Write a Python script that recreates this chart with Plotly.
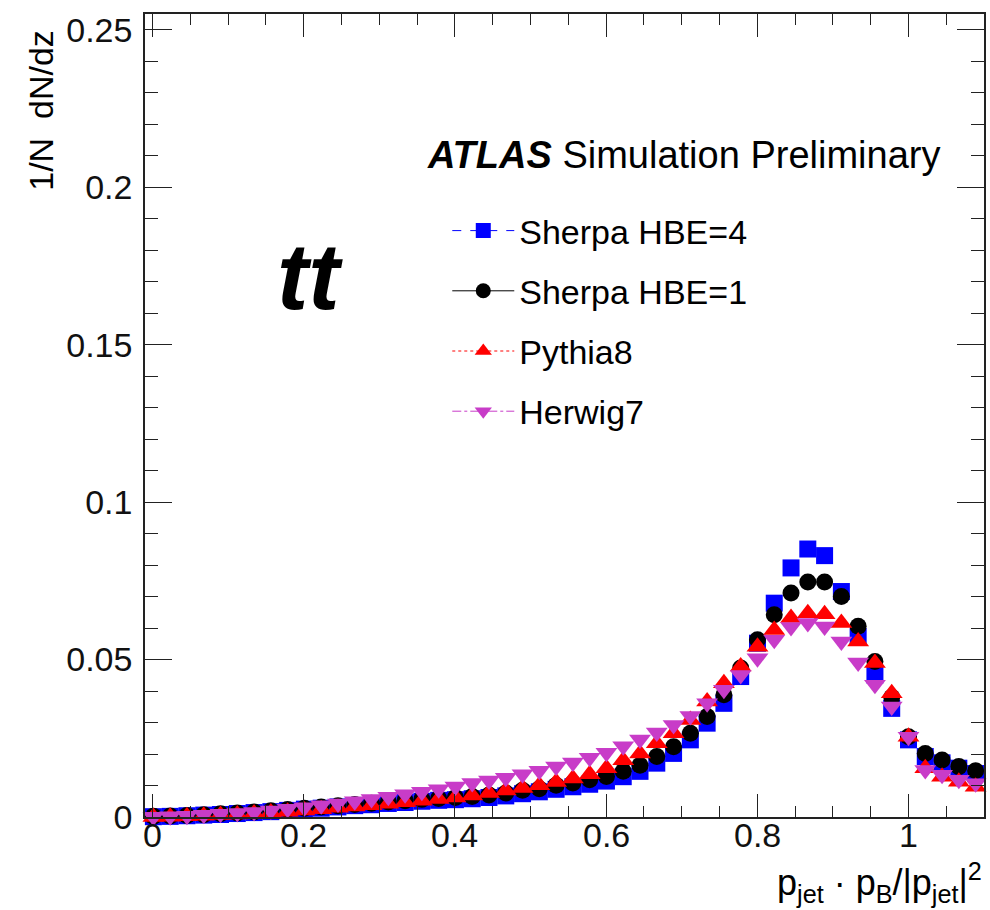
import numpy as np
import plotly.graph_objects as go

# 50 bins of z on [-0.01, 1.1]
bin_edges = np.linspace(-0.01, 1.1, 51)
z_centers = 0.5 * (bin_edges[:-1] + bin_edges[1:])

sherpa_hbe4 = [
    0.0001, 0.0002, 0.0004, 0.0006, 0.0008, 0.0011, 0.0014, 0.0017, 0.0021, 0.0025,
    0.0028, 0.0032, 0.0036, 0.0039, 0.0043, 0.0046, 0.0050, 0.0053, 0.0055, 0.0058,
    0.0062, 0.0067, 0.0074, 0.0080, 0.0088, 0.0096, 0.0104, 0.0114, 0.0128, 0.0145,
    0.0171, 0.0202, 0.0245, 0.0298, 0.0361, 0.0446, 0.0552, 0.0679, 0.0791, 0.0851,
    0.0830, 0.0716, 0.0573, 0.0451, 0.0345, 0.0245, 0.0192, 0.0172, 0.0155, 0.0138,
]
sherpa_hbe1 = [
    0.0002, 0.0003, 0.0005, 0.0007, 0.0010, 0.0013, 0.0016, 0.0020, 0.0024, 0.0028,
    0.0032, 0.0036, 0.0040, 0.0044, 0.0048, 0.0052, 0.0056, 0.0059, 0.0062, 0.0065,
    0.0070, 0.0076, 0.0085, 0.0090, 0.0101, 0.0108, 0.0118, 0.0129, 0.0145, 0.0164,
    0.0192, 0.0223, 0.0266, 0.0319, 0.0388, 0.0473, 0.0563, 0.0642, 0.0711, 0.0746,
    0.0746, 0.0700, 0.0606, 0.0494, 0.0380, 0.0255, 0.0202, 0.0181, 0.0160, 0.0147,
]
pythia8 = [
    0.0000, 0.0001, 0.0002, 0.0004, 0.0006, 0.0008, 0.0011, 0.0014, 0.0017, 0.0021,
    0.0025, 0.0029, 0.0033, 0.0037, 0.0042, 0.0047, 0.0052, 0.0057, 0.0062, 0.0068,
    0.0076, 0.0084, 0.0092, 0.0101, 0.0111, 0.0122, 0.0136, 0.0155, 0.0180, 0.0202,
    0.0234, 0.0266, 0.0308, 0.0367, 0.0425, 0.0478, 0.0541, 0.0594, 0.0632, 0.0647,
    0.0644, 0.0616, 0.0557, 0.0489, 0.0393, 0.0255, 0.0155, 0.0128, 0.0112, 0.0096,
]
herwig7 = [
    0.0001, 0.0002, 0.0004, 0.0007, 0.0010, 0.0013, 0.0016, 0.0021, 0.0026, 0.0031,
    0.0037, 0.0043, 0.0050, 0.0057, 0.0064, 0.0072, 0.0080, 0.0088, 0.0097, 0.0108,
    0.0116, 0.0125, 0.0136, 0.0147, 0.0160, 0.0173, 0.0188, 0.0204, 0.0225, 0.0246,
    0.0268, 0.0292, 0.0321, 0.0361, 0.0404, 0.0451, 0.0504, 0.0563, 0.0603, 0.0616,
    0.0605, 0.0557, 0.0491, 0.0420, 0.0351, 0.0255, 0.0149, 0.0134, 0.0118, 0.0107,
]

x_tick_vals = [0, 0.2, 0.4, 0.6, 0.8, 1.0]
x_tick_text = ["0", "0.2", "0.4", "0.6", "0.8", "1"]
y_tick_vals = [0, 0.05, 0.1, 0.15, 0.2, 0.25]
y_tick_text = ["0", "0.05", "0.1", "0.15", "0.2", "0.25"]

FONT = "Liberation Sans, Arial, Helvetica, sans-serif"

series = [
    ("Sherpa HBE=4", sherpa_hbe4, "#0000FF", "square", 17, "dash"),
    ("Sherpa HBE=1", sherpa_hbe1, "#000000", "circle", 17, "solid"),
    ("Pythia8", pythia8, "#FF0000", "triangle-up", 19, "dot"),
    ("Herwig7", herwig7, "#C83CC8", "triangle-down", 19, "dashdot"),
]

fig = go.Figure()
for name, vals, color, symbol, size, dash in series:
    fig.add_trace(go.Scatter(
        x=z_centers, y=vals, mode="markers", name=name,
        marker=dict(symbol=symbol, size=size, color=color, line=dict(width=0)),
        cliponaxis=False, showlegend=False, legendgroup=name,
    ))
# legend entries (marker with line style)
for name, vals, color, symbol, size, dash in series:
    fig.add_trace(go.Scatter(
        x=[None], y=[None], mode="lines+markers", name=name,
        marker=dict(symbol=symbol, size=15, color=color, line=dict(width=0)),
        line=dict(color=color, width=1, dash=dash),
        legendgroup=name, showlegend=True,
    ))

axis_common = dict(
    showgrid=False, zeroline=False, showline=True, linecolor="#222222", linewidth=1.5,
    mirror="ticks", ticks="inside", tickcolor="#222222", tickwidth=1.2,
    tickfont=dict(family=FONT, size=34, color="#111111"),
)

fig.update_xaxes(
    range=[-0.01, 1.1], tickmode="array", tickvals=x_tick_vals, ticktext=x_tick_text,
    ticklen=23, showticklabels=False,
    minor=dict(dtick=0.05, tick0=0, ticks="inside", ticklen=11, tickcolor="#222222", tickwidth=1.2),
    **axis_common,
)
fig.update_yaxes(
    range=[0, 0.255], tickmode="array", tickvals=y_tick_vals, ticktext=y_tick_text,
    ticklen=27, ticklabelstandoff=4,
    minor=dict(dtick=0.01, tick0=0, ticks="inside", ticklen=13, tickcolor="#222222", tickwidth=1.2),
    **axis_common,
)

# x tick labels sit close under the frame
for tv, tt in zip(x_tick_vals, x_tick_text):
    fig.add_annotation(
        text=tt, x=tv, xref="x", y=(817 - 835) / 803, yref="paper",
        xanchor="center", yanchor="middle", showarrow=False,
        font=dict(family=FONT, size=34, color="#111111"),
    )

fig.add_annotation(
    text="<b><i>ATLAS</i></b> Simulation Preliminary",
    xref="paper", yref="paper", x=(426 - 145) / 841, y=(817 - 155) / 803,
    xanchor="left", yanchor="middle", showarrow=False,
    font=dict(family=FONT, size=38, color="#000000"),
)
fig.add_annotation(
    text="<b><i>tt</i></b>",
    xref="paper", yref="paper", x=(310 - 145) / 841, y=(817 - 276) / 803,
    xanchor="center", yanchor="middle", showarrow=False,
    font=dict(family=FONT, size=94, color="#000000"),
)
fig.add_annotation(
    text="1/N  dN/dz", textangle=-90,
    xref="paper", yref="paper", x=(41 - 145) / 841, y=(817 - 28) / 803,
    xanchor="center", yanchor="top", showarrow=False,
    font=dict(family=FONT, size=34, color="#000000"),
)
fig.add_annotation(
    text="p<sub>jet</sub> · p<sub>B</sub>/|p<sub>jet</sub>|<sup>2</sup>",
    xref="paper", yref="paper", x=1.0, y=-0.082,
    xanchor="right", yanchor="middle", showarrow=False,
    font=dict(family=FONT, size=36, color="#000000"),
)

fig.update_layout(
    width=990, height=910,
    margin=dict(l=145, r=4, t=14, b=93),
    paper_bgcolor="white", plot_bgcolor="white",
    legend=dict(
        x=(448 - 145) / 841, y=(817 - 202) / 803, xanchor="left", yanchor="top",
        bgcolor="rgba(0,0,0,0)", tracegroupgap=13, itemwidth=62,
        font=dict(family=FONT, size=34, color="#000000"),
    ),
)

fig.write_html("out.html")
